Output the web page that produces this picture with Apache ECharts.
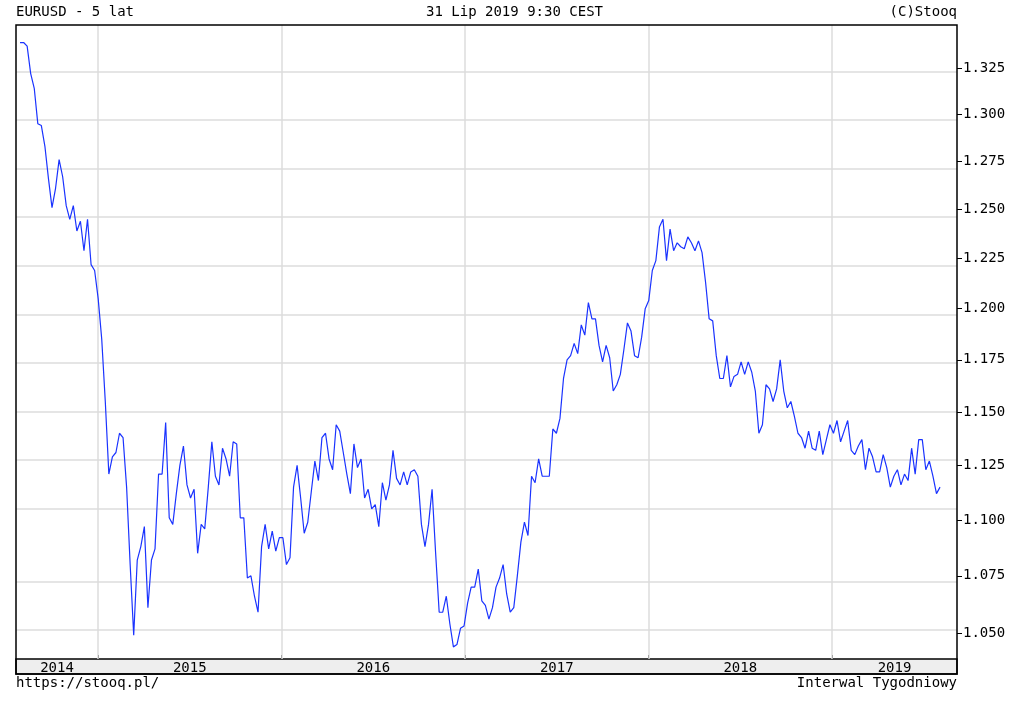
<!DOCTYPE html>
<html>
<head>
<meta charset="utf-8">
<script src="https://cdn.jsdelivr.net/npm/echarts@6/dist/echarts.min.js"></script>
<style>
  html, body { margin: 0; padding: 0; background: #fff; }
  #chart { width: 1022px; height: 710px; }
</style>
</head>
<body>
<div id="chart"></div>
<script>
// weekly EURUSD closes
var y2014 = [1.339,1.339,1.337,1.322,1.314,1.295,1.294,1.283,1.266,1.251,1.261,1.276,1.267,1.252,1.245,1.252,1.239,1.244,1.229,1.245,1.222,1.219]
var y2015 = [1.205,1.185,1.155,1.121,1.129,1.131,1.140,1.138,1.115,1.080,1.049,1.082,1.088,1.097,1.061,1.082,1.087,1.121,1.121,1.145,1.101,1.098,1.112,1.125,1.134,1.116,1.110,1.114,1.085,1.098,1.096,1.115,1.136,1.120,1.116,1.133,1.128,1.120,1.136,1.135,1.101,1.101,1.074,1.075,1.066,1.059,1.088,1.098,1.087,1.095,1.086,1.092,1.092]
var y2016 = [1.080,1.083,1.115,1.125,1.110,1.094,1.099,1.113,1.127,1.118,1.138,1.140,1.128,1.123,1.144,1.141,1.131,1.121,1.112,1.135,1.124,1.128,1.110,1.114,1.105,1.107,1.097,1.117,1.109,1.116,1.132,1.119,1.116,1.122,1.116,1.122,1.123,1.120,1.098,1.088,1.098,1.114,1.085,1.059,1.059,1.066,1.054,1.044,1.045,1.052]
var y2017 = [1.053,1.063,1.070,1.070,1.078,1.064,1.062,1.056,1.061,1.070,1.074,1.080,1.067,1.059,1.061,1.075,1.090,1.099,1.093,1.120,1.117,1.128,1.120,1.120,1.120,1.142,1.140,1.147,1.166,1.175,1.177,1.183,1.178,1.192,1.187,1.203,1.195,1.195,1.182,1.174,1.182,1.176,1.160,1.163,1.168,1.180,1.193,1.189,1.177,1.176,1.186,1.200,1.204]
var y2018 = [1.219,1.224,1.241,1.245,1.224,1.240,1.229,1.233,1.231,1.230,1.236,1.233,1.229,1.234,1.228,1.213,1.195,1.194,1.177,1.166,1.166,1.177,1.162,1.167,1.168,1.174,1.168,1.174,1.169,1.160,1.140,1.144,1.163,1.161,1.155,1.161,1.175,1.160,1.152,1.155,1.148,1.140,1.138,1.133,1.141,1.133,1.132,1.141,1.130,1.137,1.144,1.140]
var y2019 = [1.146,1.136,1.141,1.146,1.132,1.130,1.134,1.137,1.123,1.133,1.129,1.122,1.122,1.130,1.124,1.115,1.120,1.123,1.116,1.121,1.118,1.133,1.121,1.137,1.137,1.123,1.127,1.120,1.112,1.115]

var priceTicks = [1.050,1.075,1.100,1.125,1.150,1.175,1.200,1.225,1.250,1.275,1.300,1.325]
var years = [2014,2015,2016,2017,2018,2019]
var yearLines = [2015,2016,2017,2018,2019]

var xMin = 2014.553, xMax = 2019.681
var startX = 2014.575, step = 1 / 51.66

var closes = [].concat(y2014, y2015, y2016, y2017, y2018, y2019)
var data = closes.map(function (v, i) { return [startX + i * step, Math.log(v)] })

// year label at the middle of its visible span
var yearMid = years.map(function (y) {
  return (Math.max(y, xMin) + Math.min(y + 1, xMax)) / 2
})

var font = 'DejaVu Sans Mono'
var chart = echarts.init(document.getElementById('chart'))
chart.setOption({
  animation: false,
  textStyle: { fontFamily: font },
  grid: { left: 16, right: 65, top: 25, bottom: 51 },
  graphic: [
    { type: 'rect', shape: { x: 16, y: 659, width: 941, height: 15 },
      style: { fill: '#eeeeee', stroke: '#000', lineWidth: 1.5 }, z: 0 },
    { type: 'rect', shape: { x: 16, y: 25, width: 941, height: 649 },
      style: { fill: 'none', stroke: '#000', lineWidth: 1.5 }, z: 100 },
    { type: 'text', left: 16, top: 5, style: { text: 'EURUSD - 5 lat', font: '14px ' + font, fill: '#000' } },
    { type: 'text', left: 426, top: 5, style: { text: '31 Lip 2019 9:30 CEST', font: '14px ' + font, fill: '#000' } },
    { type: 'text', right: 65, top: 5, style: { text: '(C)Stooq', font: '14px ' + font, fill: '#000' } },
    { type: 'text', left: 16, top: 676, style: { text: 'https://stooq.pl/', font: '14px ' + font, fill: '#000' } },
    { type: 'text', right: 65, top: 676, style: { text: 'Interwal Tygodniowy', font: '14px ' + font, fill: '#000' } }
  ],
  xAxis: {
    type: 'value', min: xMin, max: xMax,
    axisLine: { show: false },
    splitLine: { show: false },
    axisTick: { show: true, inside: true, length: 4, customValues: yearLines, lineStyle: { color: '#000' } },
    axisLabel: {
      customValues: yearMid, margin: 2, fontSize: 14, color: '#000', fontFamily: font,
      formatter: function (v) { return String(Math.floor(v)) }
    }
  },
  yAxis: {
    type: 'value', position: 'right',
    min: Math.log(1.0388), max: Math.log(1.3487),
    axisLine: { show: false },
    splitLine: { show: false },
    axisTick: { show: true, length: 5, customValues: priceTicks.map(Math.log), lineStyle: { color: '#000' } },
    axisLabel: {
      customValues: priceTicks.map(Math.log), fontSize: 14, color: '#000', fontFamily: font, margin: 6,
      formatter: function (v) { return Math.exp(v).toFixed(3) }
    }
  },
  series: [{
    type: 'line', data: data, showSymbol: false, z: 5,
    lineStyle: { color: '#1a33ff', width: 1.2 },
    markLine: {
      silent: true, symbol: 'none', label: { show: false }, z: 1,
      lineStyle: { color: '#dddddd', width: 1.5, type: 'solid' },
      data: priceTicks.map(function (p) { return { yAxis: Math.log(p) } })
        .concat(yearLines.map(function (y) { return { xAxis: y } }))
    }
  }]
})
</script>
</body>
</html>
